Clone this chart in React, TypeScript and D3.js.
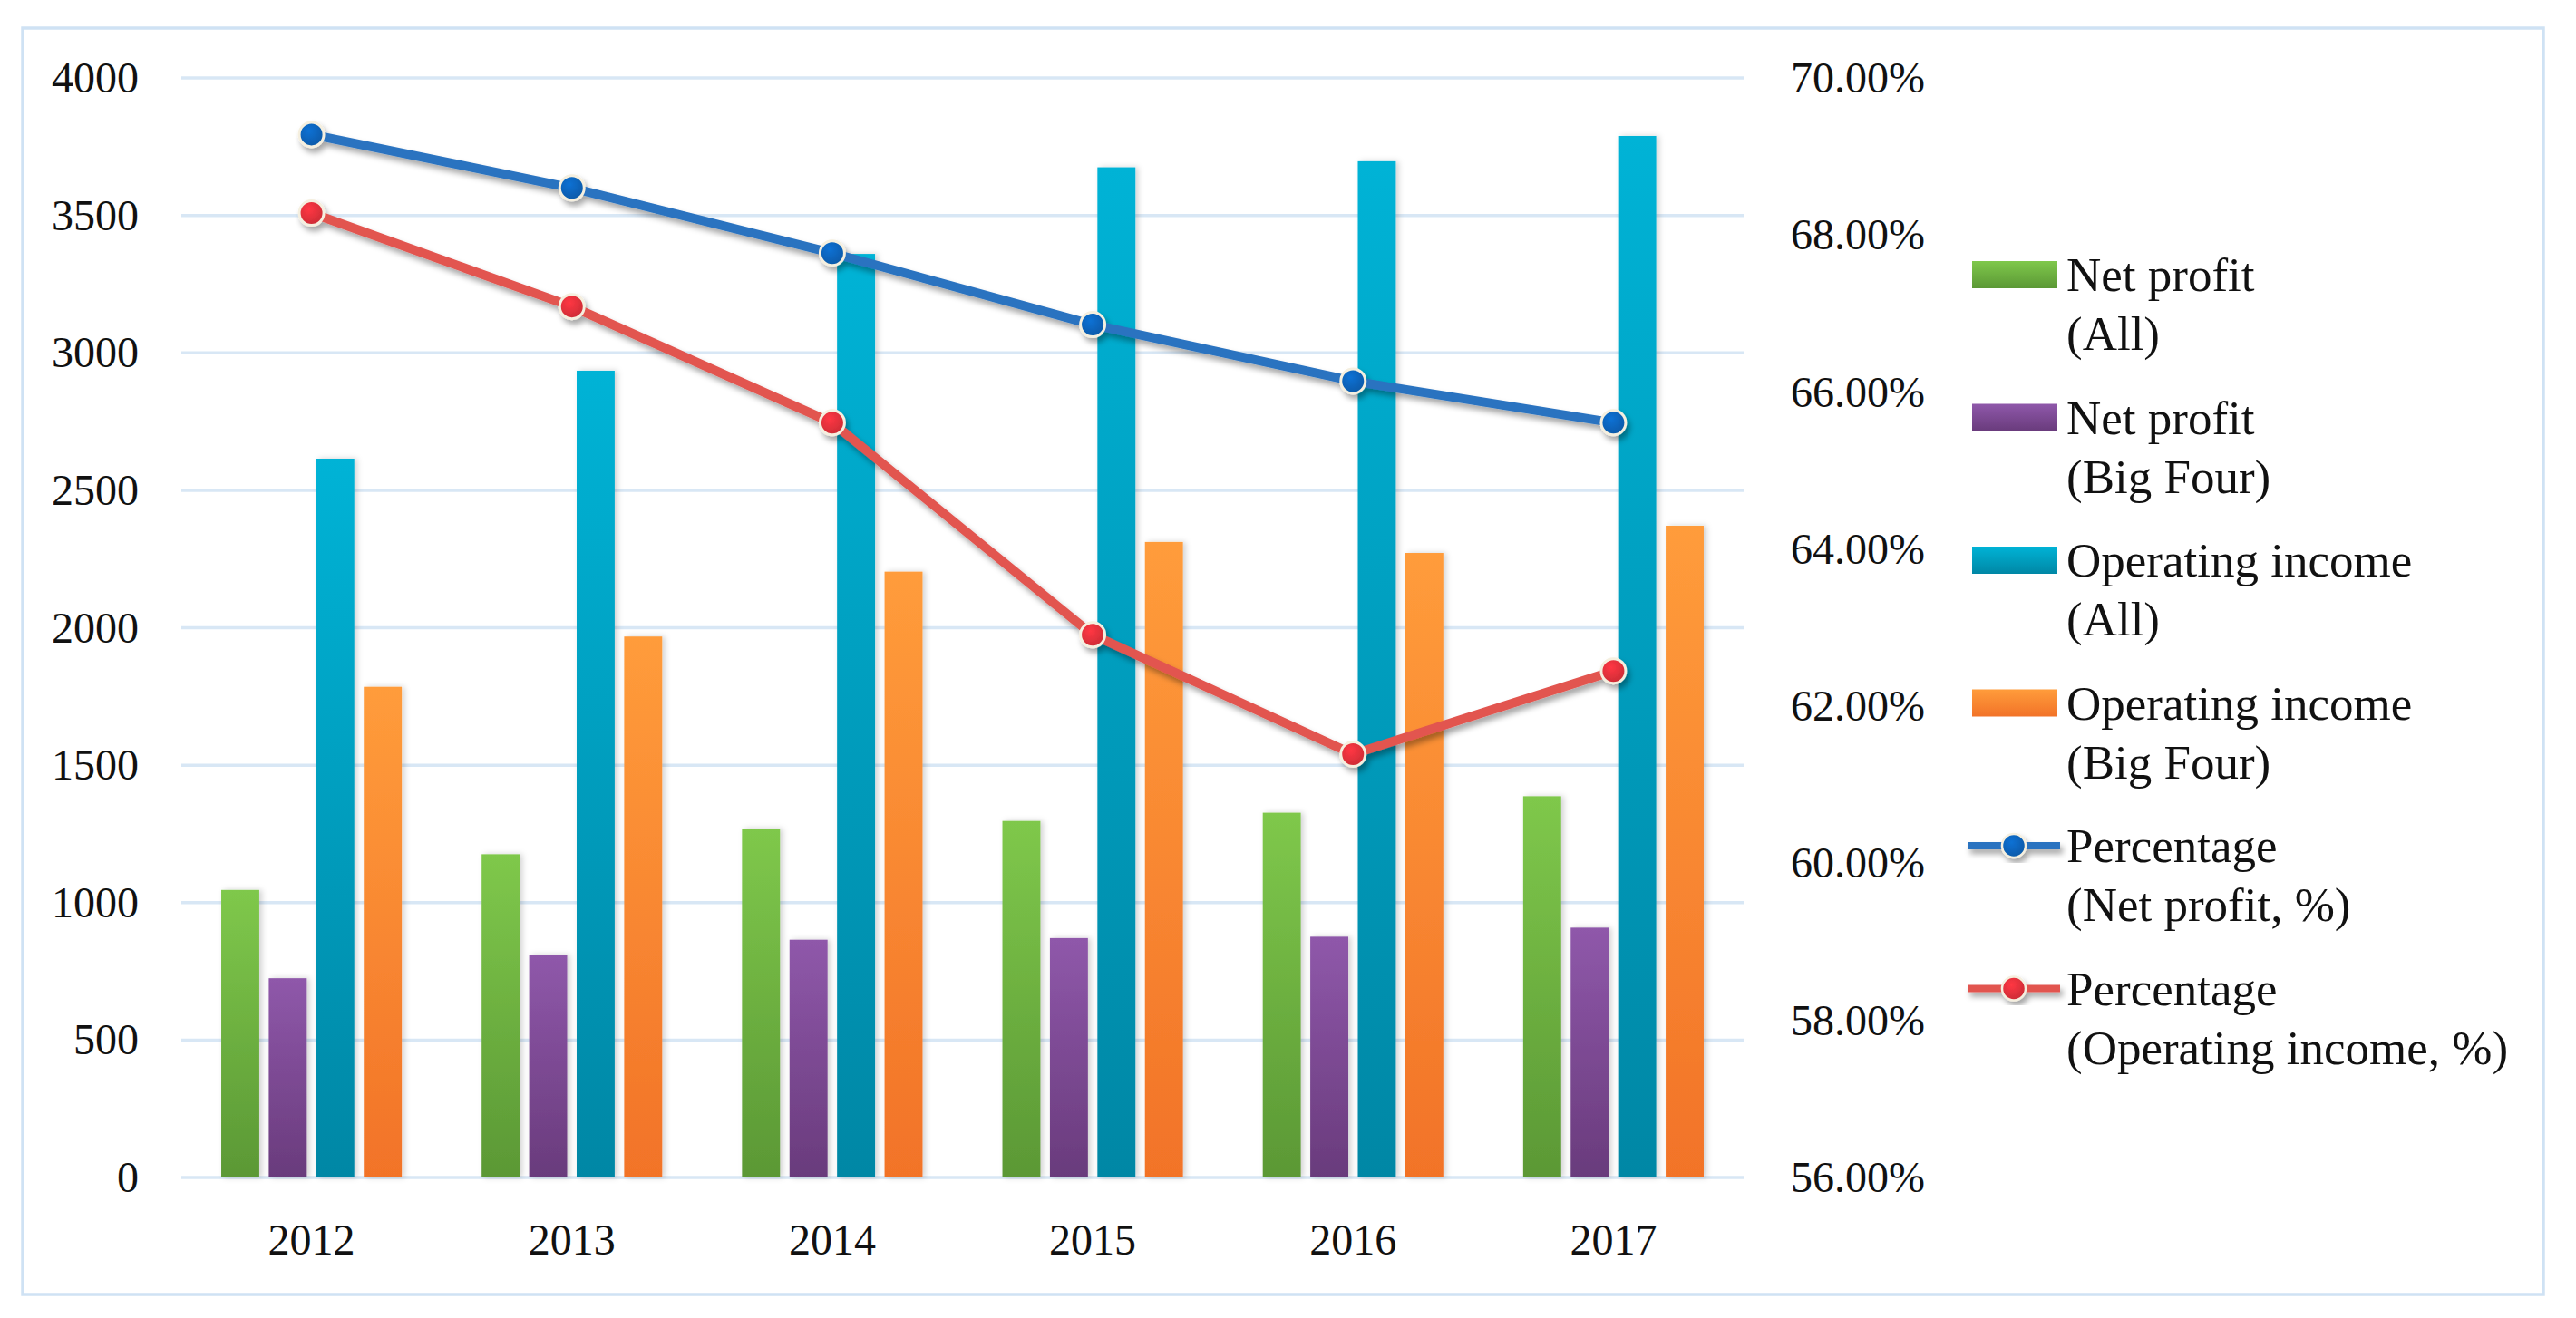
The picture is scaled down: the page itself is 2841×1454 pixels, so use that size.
import React from "react";
import * as d3 from "d3";

const years = ["2012", "2013", "2014", "2015", "2016", "2017"];
const netProfitAll = [1046, 1176, 1269, 1297, 1327, 1387];
const netProfitBigFour = [725, 810, 865, 871, 876, 909];
const opIncomeAll = [2615, 2935, 3360, 3675, 3697, 3789];
const opIncomeBigFour = [1785, 1968, 2204, 2312, 2272, 2371];
const pctNetProfit = [69.28, 68.6, 67.77, 66.86, 66.14, 65.61];
const pctOpIncome = [68.28, 67.09, 65.61, 62.91, 61.39, 62.45];
const leftTicks = [0, 500, 1000, 1500, 2000, 2500, 3000, 3500, 4000];
const rightTicks = [56, 58, 60, 62, 64, 66, 68, 70];

const barSeries = [
  { key: "npAll", values: netProfitAll, top: "#7fc84b", bottom: "#5b9835", label: ["Net profit", "(All)"] },
  { key: "npBig", values: netProfitBigFour, top: "#8f58aa", bottom: "#693b7c", label: ["Net profit", "(Big Four)"] },
  { key: "oiAll", values: opIncomeAll, top: "#00b3d6", bottom: "#0087a5", label: ["Operating income", "(All)"] },
  { key: "oiBig", values: opIncomeBigFour, top: "#ff9c3b", bottom: "#f27328", label: ["Operating income", "(Big Four)"] },
];
const lineSeries = [
  { key: "pNet", values: pctNetProfit, line: "#2a73c0", dot: "#0a62b8", label: ["Percentage", "(Net profit, %)"] },
  { key: "pOp", values: pctOpIncome, line: "#e2544f", dot: "#e0303a", label: ["Percentage", "(Operating income, %)"] },
];

const W = 2841;
const H = 1454;
const plotL = 200;
const plotR = 1923;
const plotT = 86;
const plotB = 1299;
const FONT = "'Liberation Serif', 'Times New Roman', serif";

export default function App() {
  const x0 = d3.scaleBand<string>().domain(years).range([plotL, plotR]).padding(0);
  const bw = x0.bandwidth();
  const x1 = d3
    .scaleBand<string>()
    .domain(barSeries.map((s) => s.key))
    .range([bw * 0.1533, bw * 0.8467])
    .paddingInner(0.2);
  const yL = d3.scaleLinear().domain([0, 4000]).range([plotB, plotT]);
  const yR = d3.scaleLinear().domain([56, 70]).range([plotB, plotT]);
  const lineGen = (vals: number[]) =>
    d3
      .line<number>()
      .x((_, i) => (x0(years[i]) as number) + bw / 2)
      .y((v) => yR(v))(vals) as string;
  const fmtPct = (v: number) => d3.format(".2f")(v) + "%";

  const legX = 2175;
  const legSw = 94;
  const legTextX = 2279;
  const legY0 = 303;
  const legStep = 157.5;
  const lineGap = 65;
  const legendItems = [
    ...barSeries.map((s) => ({ type: "bar" as const, s })),
    ...lineSeries.map((s) => ({ type: "line" as const, s })),
  ];

  return (
    <svg
      width={W}
      height={H}
      viewBox={`0 0 ${W} ${H}`}
      style={{ position: "absolute", left: 0, top: 0, display: "block", background: "#fff" }}
      fontFamily={FONT}
    >
      <defs>
        {barSeries.map((s) => (
          <linearGradient key={s.key} id={`g-${s.key}`} x1="0" y1="0" x2="0" y2="1">
            <stop offset="0" stopColor={s.top} />
            <stop offset="1" stopColor={s.bottom} />
          </linearGradient>
        ))}
        {lineSeries.map((s) => (
          <radialGradient key={s.key} id={`d-${s.key}`} cx="0.4" cy="0.35" r="0.7">
            <stop offset="0" stopColor={d3.color(s.dot)!.brighter(0.4).formatHex()} />
            <stop offset="1" stopColor={d3.color(s.dot)!.darker(0.3).formatHex()} />
          </radialGradient>
        ))}
        <filter id="barShadow" x="-30%" y="-5%" width="160%" height="110%">
          <feDropShadow dx="3" dy="0" stdDeviation="3" floodColor="#000" floodOpacity="0.18" />
        </filter>
        <filter id="lineShadow" x="-10%" y="-20%" width="120%" height="140%">
          <feDropShadow dx="3" dy="5" stdDeviation="3" floodColor="#000" floodOpacity="0.35" />
        </filter>
      </defs>

      <rect x={0} y={0} width={W} height={H} fill="#fff" />
      <rect x={25} y={31} width={2780} height={1397} fill="none" stroke="#cfe2f4" strokeWidth={3.5} />

      {/* gridlines */}
      {leftTicks.map((t) => (
        <line key={t} x1={plotL} x2={plotR} y1={yL(t)} y2={yL(t)} stroke="#d8e7f5" strokeWidth={3.5} />
      ))}

      {/* left axis labels */}
      {leftTicks.map((t) => (
        <text key={t} x={153} y={yL(t) + 16} textAnchor="end" fontSize={48} fill="#111">
          {t}
        </text>
      ))}
      {/* right axis labels */}
      {rightTicks.map((t) => (
        <text key={t} x={1975} y={yR(t) + 16} textAnchor="start" fontSize={48} fill="#111">
          {fmtPct(t)}
        </text>
      ))}
      {/* x labels */}
      {years.map((y) => (
        <text key={y} x={(x0(y) as number) + bw / 2} y={1384} textAnchor="middle" fontSize={48} fill="#111">
          {y}
        </text>
      ))}

      {/* bars */}
      <g filter="url(#barShadow)">
        {years.map((yr, i) =>
          barSeries.map((s) => (
            <rect
              key={yr + s.key}
              x={(x0(yr) as number) + (x1(s.key) as number)}
              y={yL(s.values[i])}
              width={x1.bandwidth()}
              height={plotB - yL(s.values[i])}
              fill={`url(#g-${s.key})`}
            />
          ))
        )}
      </g>

      {/* lines */}
      {lineSeries.map((s) => (
        <g key={s.key} filter="url(#lineShadow)">
          <path d={lineGen(s.values)} fill="none" stroke={s.line} strokeWidth={10} strokeLinejoin="round" />
          {s.values.map((v, i) => (
            <circle
              key={i}
              cx={(x0(years[i]) as number) + bw / 2}
              cy={yR(v)}
              r={13.5}
              fill={`url(#d-${s.key})`}
              stroke="#f5efdf"
              strokeWidth={3}
            />
          ))}
        </g>
      ))}

      {/* legend */}
      {legendItems.map((it, i) => {
        const cy = legY0 + i * legStep;
        return (
          <g key={i}>
            {it.type === "bar" ? (
              <rect x={legX} y={cy - 15} width={legSw} height={30} fill={`url(#g-${it.s.key})`} />
            ) : (
              <g filter="url(#lineShadow)">
                <line x1={legX - 5} x2={legX + legSw + 3} y1={cy} y2={cy} stroke={it.s.line} strokeWidth={8} />
                <circle cx={legX + 46} cy={cy} r={13} fill={`url(#d-${it.s.key})`} stroke="#f5efdf" strokeWidth={2.5} />
              </g>
            )}
            <text x={legTextX} y={cy + 18} fontSize={53} fill="#111">
              {it.s.label[0]}
            </text>
            <text x={legTextX} y={cy + 18 + lineGap} fontSize={53} fill="#111">
              {it.s.label[1]}
            </text>
          </g>
        );
      })}
    </svg>
  );
}
